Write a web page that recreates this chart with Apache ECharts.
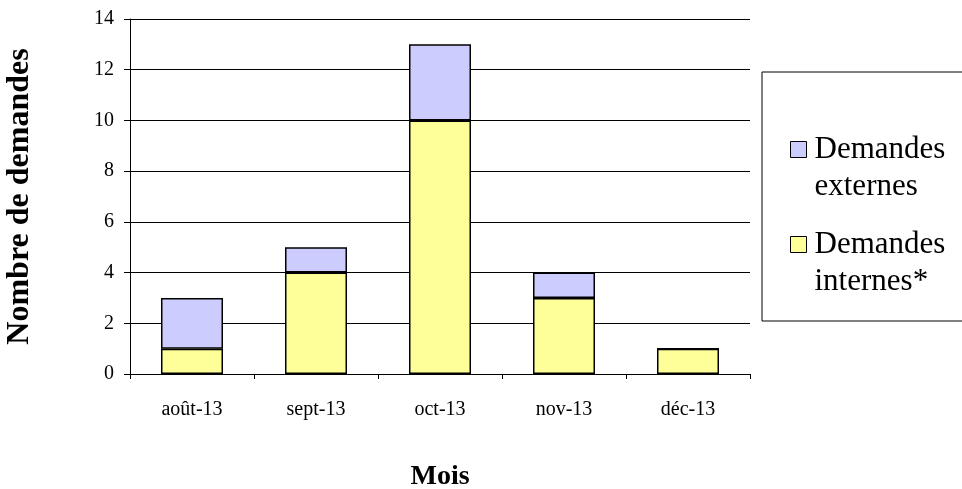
<!DOCTYPE html>
<html>
<head>
<meta charset="utf-8">
<script src="https://cdn.jsdelivr.net/npm/echarts@6/dist/echarts.min.js"></script>
<style>
  html, body { margin: 0; padding: 0; background: #fff; }
  #chart { width: 962px; height: 489px; }
</style>
</head>
<body>
<div id="chart"></div>
<script>
// données
var mois = ['août-13', 'sept-13', 'oct-13', 'nov-13', 'déc-13'];
var internes = [1, 4, 10, 3, 1];
var externes = [2, 1, 3, 1, 0];
var yTicks = [0, 2, 4, 6, 8, 10, 12, 14];

var police = '"Liberation Serif", "DejaVu Serif", serif';
var myChart = echarts.init(document.getElementById('chart'));

// une légende par série, texte sur deux lignes aligné sur la case
function legende(nom, haut) {
    return {
        orient: 'vertical',
        left: 790,
        top: haut,
        padding: 0,
        icon: 'rect',
        itemWidth: 16,
        itemHeight: 16,
        data: [nom],
        formatter: function (name) {
            return ' \n' + name.replace(' ', '\n');
        },
        textStyle: {
            fontFamily: police,
            fontSize: 31,
            color: '#000',
            lineHeight: 37,
            padding: [0, 0, 0, 3]
        },
        itemStyle: { borderColor: '#000', borderWidth: 1 }
    };
}

var option = {
    backgroundColor: '#fff',
    animation: false,
    textStyle: { fontFamily: police, color: '#000' },
    grid: { left: 130, right: 212, top: 19, bottom: 115, containLabel: false, outerBoundsMode: 'none' },
    legend: [
        legende('Demandes externes', 94),
        legende('Demandes internes*', 189)
    ],
    graphic: [{
        type: 'rect',
        shape: { x: 762, y: 72, width: 220, height: 249 },
        style: { fill: 'none', stroke: '#000', lineWidth: 1 }
    }],
    xAxis: {
        type: 'category',
        data: mois,
        name: 'Mois',
        nameLocation: 'middle',
        nameGap: 89,
        nameTextStyle: { fontFamily: police, fontSize: 28, fontWeight: 'bold', color: '#000' },
        axisLine: { lineStyle: { color: '#000', width: 1 } },
        axisTick: { show: true, length: 5, inside: false, lineStyle: { color: '#000' } },
        axisLabel: { fontFamily: police, fontSize: 20, color: '#000', margin: 26 }
    },
    yAxis: {
        type: 'value',
        min: 0,
        max: 14,
        interval: 2,
        name: 'Nombre de demandes',
        nameLocation: 'middle',
        nameGap: 94,
        nameRotate: 90,
        nameTextStyle: { fontFamily: police, fontSize: 32, fontWeight: 'bold', color: '#000' },
        axisLine: { show: true, lineStyle: { color: '#000', width: 1 } },
        axisTick: { show: true, length: 6, lineStyle: { color: '#000' } },
        axisLabel: {
            fontFamily: police, fontSize: 20, color: '#000', margin: 16,
            formatter: function (v) { return yTicks.indexOf(v) >= 0 ? String(v) : ''; }
        },
        splitLine: { show: true, lineStyle: { color: '#000', width: 1 } }
    },
    series: [
        {
            name: 'Demandes internes*',
            type: 'bar',
            stack: 'total',
            barWidth: 62,
            data: internes,
            itemStyle: { color: '#FFFF99', borderColor: '#000', borderWidth: 1.5 }
        },
        {
            name: 'Demandes externes',
            type: 'bar',
            stack: 'total',
            barWidth: 62,
            data: externes,
            itemStyle: { color: '#CCCCFF', borderColor: '#000', borderWidth: 1.5 }
        }
    ]
};

myChart.setOption(option);
</script>
</body>
</html>
